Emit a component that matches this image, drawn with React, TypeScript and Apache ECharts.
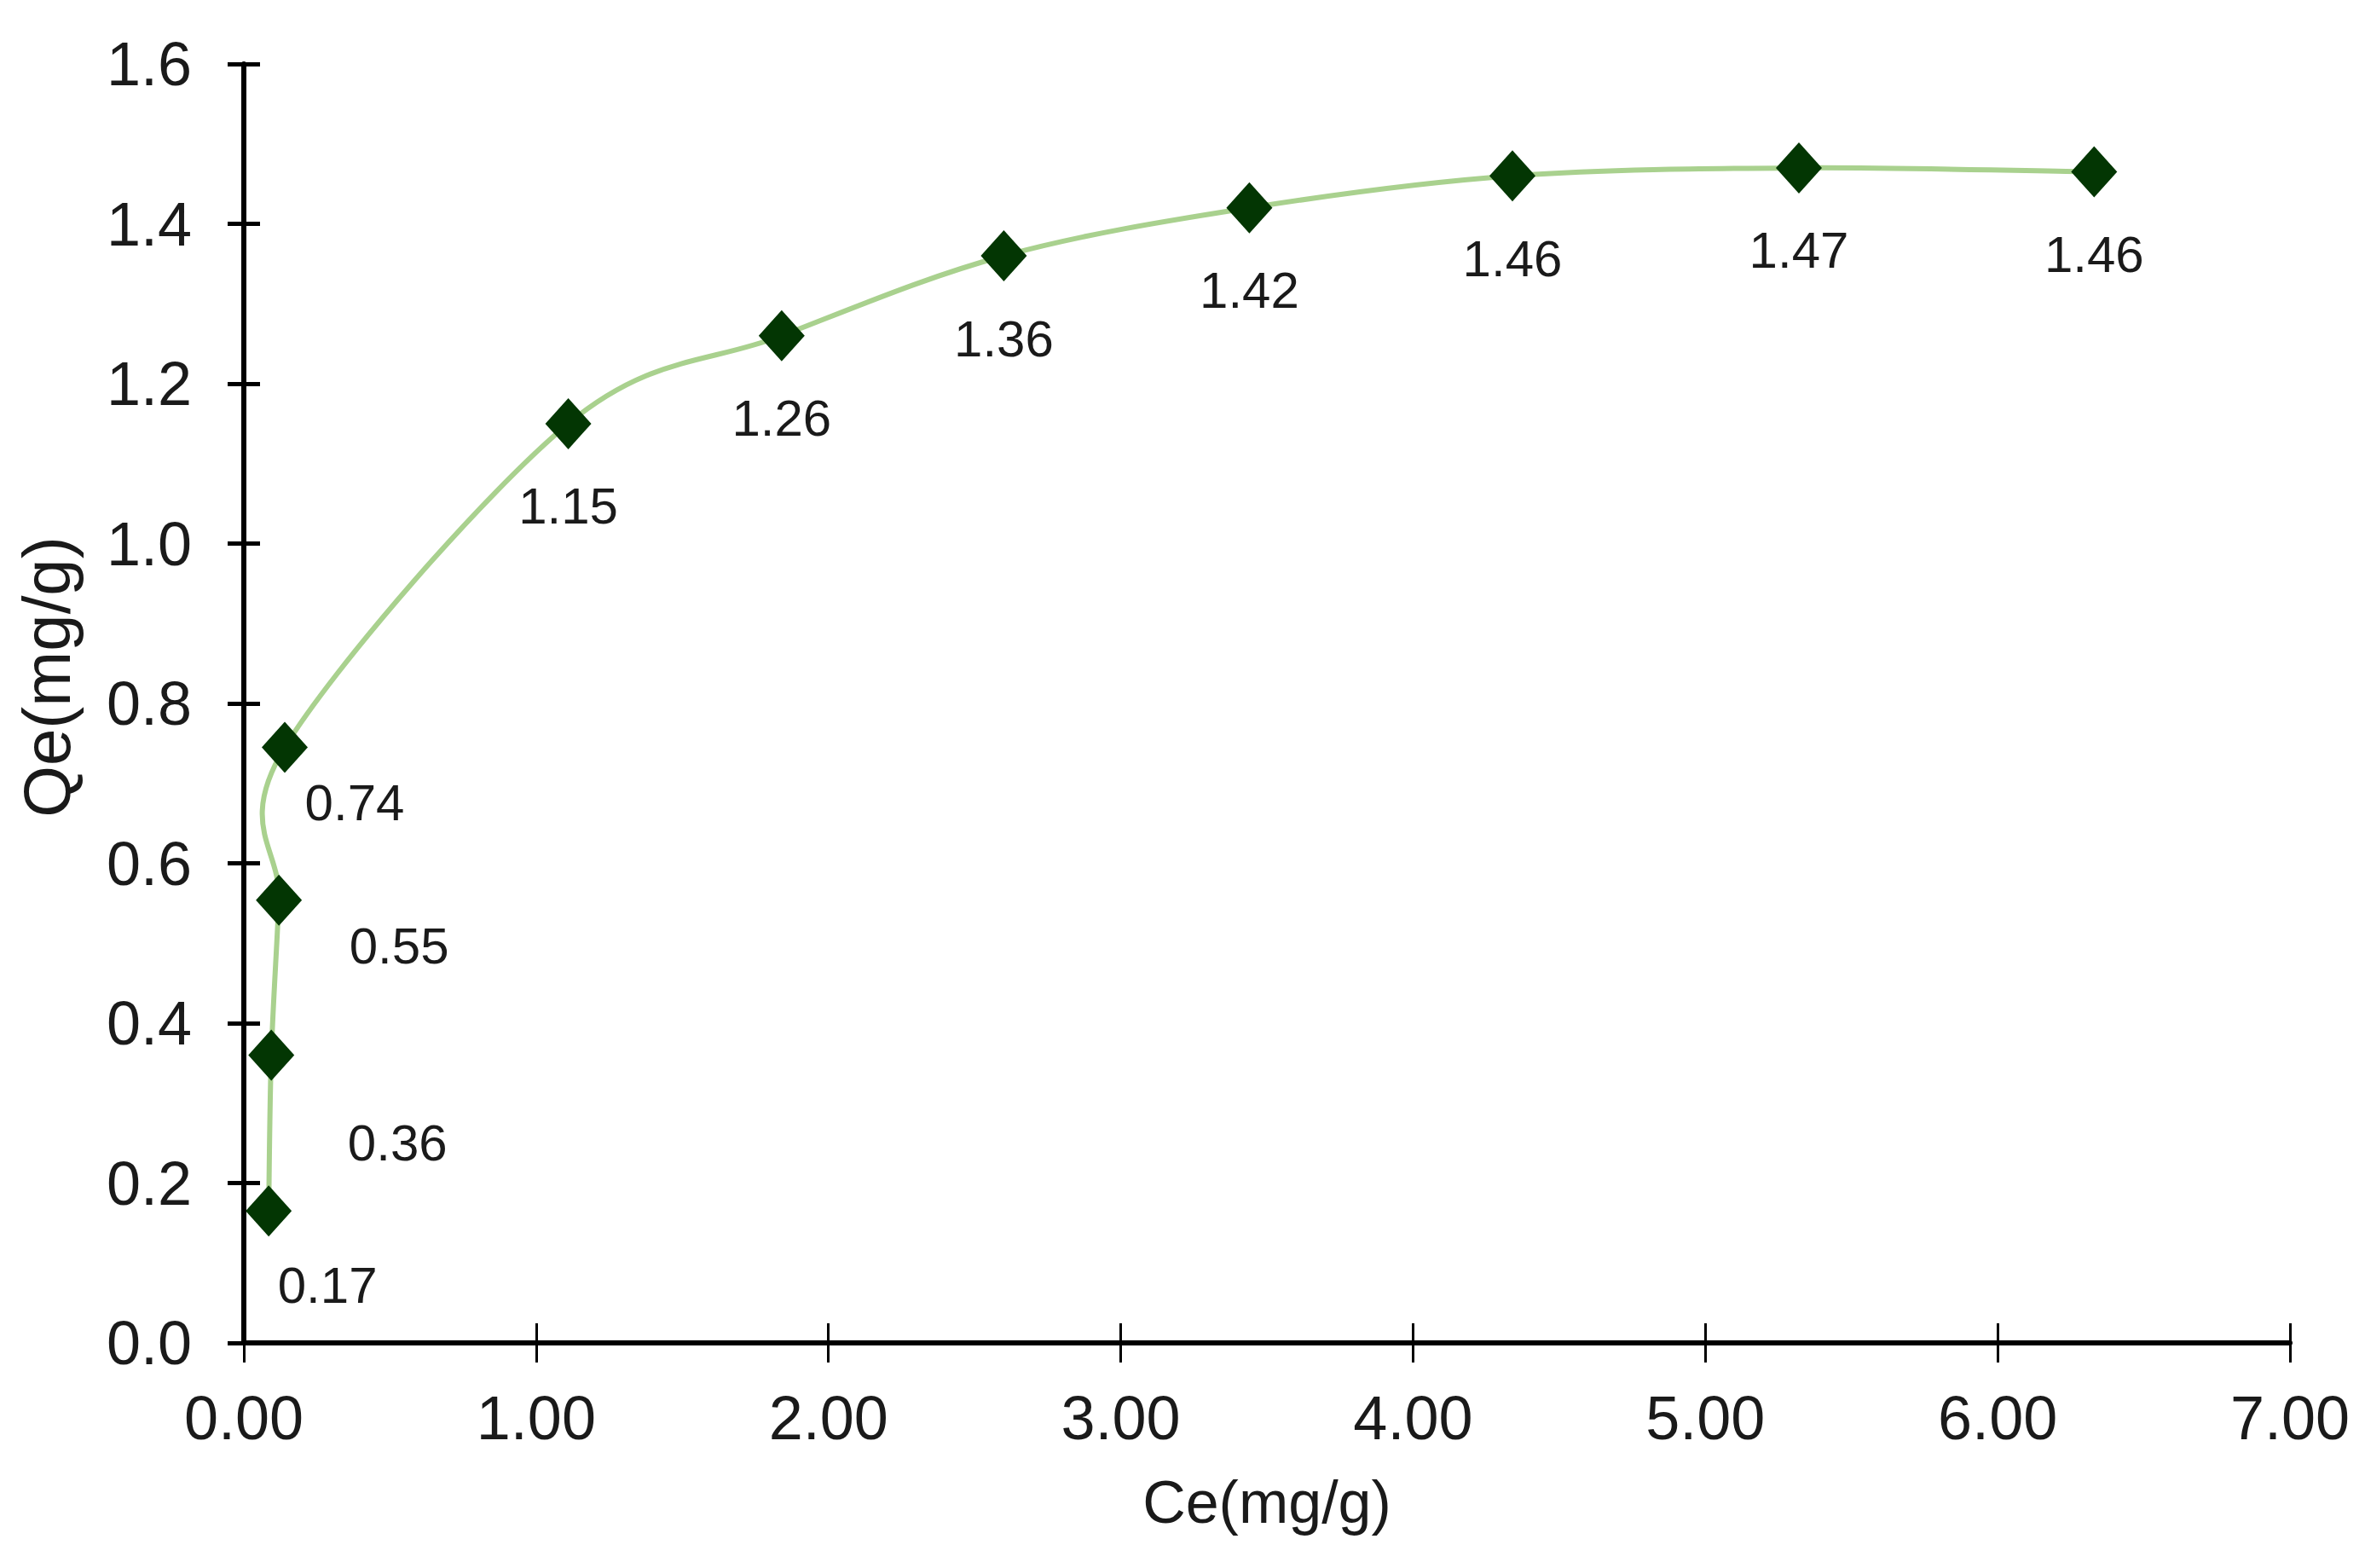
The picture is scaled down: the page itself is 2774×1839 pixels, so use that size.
import React, { useEffect, useRef } from 'react';
import * as echarts from 'echarts';

// Ce (mg/g) and Qe (mg/g)
const ceValues = [0.085, 0.094, 0.12, 0.14, 1.11, 1.84, 2.6, 3.44, 4.34, 5.32, 6.33];
const qeValues = [0.165, 0.36, 0.554, 0.745, 1.15, 1.26, 1.36, 1.42, 1.46, 1.47, 1.465];
const qeLabels = ['0.17', '0.36', '0.55', '0.74', '1.15', '1.26', '1.36', '1.42', '1.46', '1.47', '1.46'];

const xTicks = { min: 0, max: 7, interval: 1 };
const yTicks = { min: 0, max: 1.6, interval: 0.2 };

const FONT = "'Liberation Sans', Arial, sans-serif";
const TEXT_COLOR = '#1a1a1a';
const LINE_COLOR = '#a9d18e';

// where each value label sits relative to its marker
const labelOffsets = [
  [69, 87],
  [148, 103],
  [141, 54],
  [82, 65],
];
const defaultOffset = [0, 97];

const App: React.FC = () => {
  const chartRef = useRef<HTMLDivElement>(null);

  useEffect(() => {
    if (!chartRef.current) return;
    document.body.style.margin = '0';
    const chart = echarts.init(chartRef.current, null, { renderer: 'svg' });

    const points = ceValues.map((x, i) => [x, qeValues[i]]);

    const baseX = {
      type: 'value',
      min: xTicks.min,
      max: xTicks.max,
      interval: xTicks.interval,
      splitLine: { show: false },
    };
    const baseY = {
      type: 'value',
      min: yTicks.min,
      max: yTicks.max,
      interval: yTicks.interval,
      splitLine: { show: false },
    };

    // excel-like smoothed line: catmull-rom segments built in pixel space
    const renderSegment = (params: any, api: any) => {
      const i = params.dataIndex;
      const n = points.length;
      if (i >= n - 1) return null;
      const c = (k: number) => api.coord(points[Math.max(0, Math.min(n - 1, k))]);
      const p0 = c(i - 1);
      const p1 = c(i);
      const p2 = c(i + 1);
      const p3 = c(i + 2);
      return {
        type: 'bezierCurve',
        shape: {
          x1: p1[0],
          y1: p1[1],
          cpx1: p1[0] + (p2[0] - p0[0]) / 6,
          cpy1: p1[1] + (p2[1] - p0[1]) / 6,
          cpx2: p2[0] - (p3[0] - p1[0]) / 6,
          cpy2: p2[1] - (p3[1] - p1[1]) / 6,
          x2: p2[0],
          y2: p2[1],
        },
        style: { stroke: LINE_COLOR, lineWidth: 6, fill: 'none' },
      };
    };

    const option = {
      animation: false,
      backgroundColor: '#fff',
      grid: { left: 286, right: 88, top: 75, bottom: 264 },
      xAxis: [
        {
          ...baseX,
          position: 'bottom',
          name: 'Ce(mg/g)',
          nameLocation: 'middle',
          nameGap: 152,
          nameTextStyle: { fontFamily: FONT, fontSize: 70, color: TEXT_COLOR },
          axisLine: { lineStyle: { color: '#000', width: 6 } },
          axisTick: { inside: false, length: 23, lineStyle: { color: '#000', width: 3 } },
          axisLabel: {
            margin: 52,
            fontFamily: FONT,
            fontSize: 72,
            color: TEXT_COLOR,
            formatter: (v: number) => v.toFixed(2),
          },
        },
        {
          ...baseX,
          position: 'bottom',
          axisLine: { show: false },
          axisTick: { inside: true, length: 23, lineStyle: { color: '#000', width: 3 } },
          axisLabel: { show: false },
        },
      ],
      yAxis: [
        {
          ...baseY,
          position: 'left',
          name: 'Qe(mg/g)',
          nameLocation: 'middle',
          nameGap: 192,
          nameTextStyle: {
            fontFamily: FONT,
            fontSize: 78,
            color: TEXT_COLOR,
            padding: [0, 0, 0, 62],
          },
          axisLine: { show: true, lineStyle: { color: '#000', width: 6 } },
          axisTick: { show: true, inside: false, length: 19, lineStyle: { color: '#000', width: 5 } },
          axisLabel: {
            margin: 61,
            fontFamily: FONT,
            fontSize: 72,
            color: TEXT_COLOR,
            formatter: (v: number) => v.toFixed(1),
          },
        },
        {
          ...baseY,
          position: 'left',
          axisLine: { show: false },
          axisTick: { show: true, inside: true, length: 19, lineStyle: { color: '#000', width: 5 } },
          axisLabel: { show: false },
        },
      ],
      series: [
        {
          type: 'custom',
          xAxisIndex: 0,
          yAxisIndex: 0,
          renderItem: renderSegment,
          encode: { x: 0, y: 1 },
          data: points,
          z: 1,
        },
        {
          type: 'scatter',
          xAxisIndex: 0,
          yAxisIndex: 0,
          symbol: 'diamond',
          symbolSize: [54, 60],
          itemStyle: { color: '#033603', opacity: 1 },
          z: 3,
          label: {
            show: true,
            position: 'inside',
            align: 'center',
            verticalAlign: 'middle',
            fontFamily: FONT,
            fontSize: 60,
            color: TEXT_COLOR,
            formatter: (p: any) => qeLabels[p.dataIndex],
          },
          data: points.map((value, i) => ({
            value,
            label: { offset: labelOffsets[i] ?? defaultOffset },
          })),
        },
      ],
    };

    chart.setOption(option);
    return () => {
      chart.dispose();
    };
  }, []);

  return (
    <div
      ref={chartRef}
      style={{ position: 'fixed', left: 0, top: 0, width: '2774px', height: '1839px' }}
    />
  );
};

export default App;
